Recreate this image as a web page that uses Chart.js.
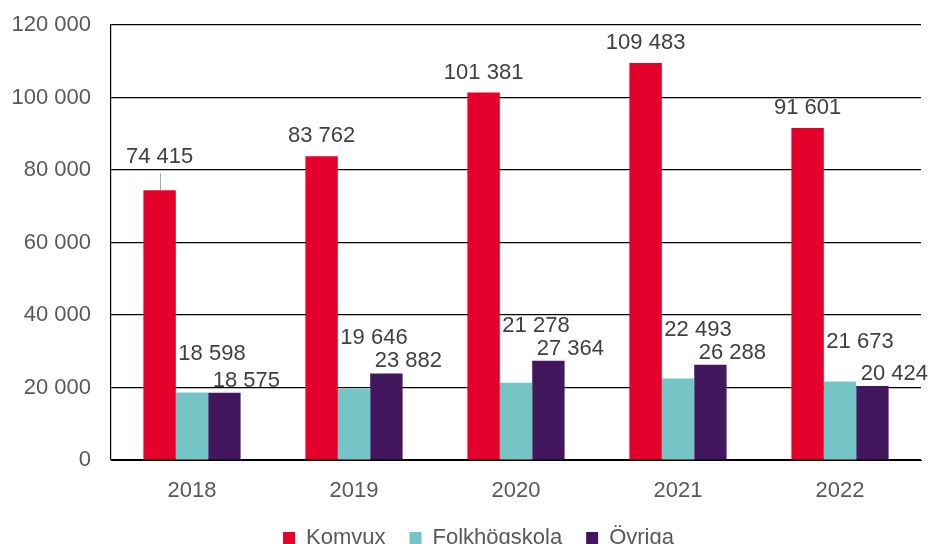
<!DOCTYPE html>
<html>
<head>
<meta charset="utf-8">
<script src="https://cdn.jsdelivr.net/npm/chart.js@4/dist/chart.umd.min.js"></script>
<style>
html,body{margin:0;padding:0;background:#fff;overflow:hidden;width:930px;height:544px;}
canvas{display:block;}
</style>
</head>
<body>
<canvas id="c" width="930" height="559"></canvas>
<script>
const years = ['2018', '2019', '2020', '2021', '2022'];
const komvux = [74415, 83762, 101381, 109483, 91601];
const folkhogskola = [18598, 19646, 21278, 22493, 21673];
const ovriga = [18575, 23882, 27364, 26288, 20424];
const seriesNames = ['Komvux', 'Folkhögskola', 'Övriga'];
const yTicks = [0, 20000, 40000, 60000, 80000, 100000, 120000];

const FONT = 'Liberation Sans, Arial, sans-serif';
const fmt = v => String(v).replace(/\B(?=(\d{3})+(?!\d))/g, ' ');

const labelPlugin = {
  id: 'barLabels',
  beforeDraw(chart) {
    if (chart.legend && !chart.legend._shifted) {
      chart.legend.left += 18;
      chart.legend.right += 18;
      chart.legend._shifted = true;
    }
  },
  afterDatasetsDraw(chart) {
    const ctx = chart.ctx;
    ctx.save();
    ctx.font = '22px ' + FONT;
    ctx.fillStyle = '#404040';
    ctx.textAlign = 'center';
    ctx.textBaseline = 'middle';
    const m0 = chart.getDatasetMeta(0), m1 = chart.getDatasetMeta(1), m2 = chart.getDatasetMeta(2);
    const d = chart.data.datasets;
    for (let i = 0; i < years.length; i++) {
      // Komvux
      const b0 = m0.data[i];
      let y0 = b0.y - 20;
      if (i === 0) {
        y0 = b0.y - 33;
        ctx.save();
        ctx.strokeStyle = '#a6a6a6';
        ctx.lineWidth = 1;
        ctx.beginPath();
        ctx.moveTo(Math.round(b0.x) + 0.5, y0 + 16);
        ctx.lineTo(Math.round(b0.x) + 0.5, b0.y);
        ctx.stroke();
        ctx.restore();
      }
      ctx.fillText(fmt(d[0].data[i]), b0.x, y0);
      // Övriga
      const b2 = m2.data[i];
      const y2 = b2.y - 12;
      ctx.fillText(fmt(d[2].data[i]), b2.x + 22, y2);
      // Folkhögskola
      const b1 = m1.data[i];
      const y1 = Math.min(b1.y - 39, y2 - 23);
      ctx.fillText(fmt(d[1].data[i]), b1.x + 20, y1);
    }
    ctx.restore();
  }
};

new Chart(document.getElementById('c'), {
  type: 'bar',
  data: {
    labels: years,
    datasets: [
      { label: seriesNames[0], data: komvux, backgroundColor: '#E4002B' },
      { label: seriesNames[1], data: folkhogskola, backgroundColor: '#76C5C6' },
      { label: seriesNames[2], data: ovriga, backgroundColor: '#42175D' }
    ]
  },
  options: {
    responsive: false,
    animation: false,
    devicePixelRatio: 1,
    layout: { padding: { left: 0, right: 9, top: 25, bottom: 0 } },
    datasets: { bar: { categoryPercentage: 0.6, barPercentage: 1.0 } },
    scales: {
      x: {
        grid: { display: false, drawTicks: false },
        border: { display: true, color: '#000', width: 1 },
        ticks: { color: '#595959', font: { family: FONT, size: 22 }, padding: 18 },
        afterFit(s) { s.height = 43; }
      },
      y: {
        min: 0, max: 120000,
        afterBuildTicks(s) { s.ticks = yTicks.map(v => ({ value: v })); },
        grid: { color: '#000', lineWidth: 1.2, drawTicks: false },
        border: { display: true, color: '#000', width: 1.2 },
        ticks: {
          color: '#595959', font: { family: FONT, size: 22 }, padding: 20,
          callback: v => fmt(v)
        },
        afterFit(s) { s.width = 111; s.paddingTop = 0; s.paddingBottom = 0; }
      }
    },
    plugins: {
      legend: {
        position: 'bottom',
        labels: {
          color: '#595959', font: { family: FONT, size: 22 },
          boxWidth: 12, boxHeight: 12, padding: 24
        }
      },
      tooltip: { enabled: false }
    }
  },
  plugins: [labelPlugin]
});
</script>
</body>
</html>
